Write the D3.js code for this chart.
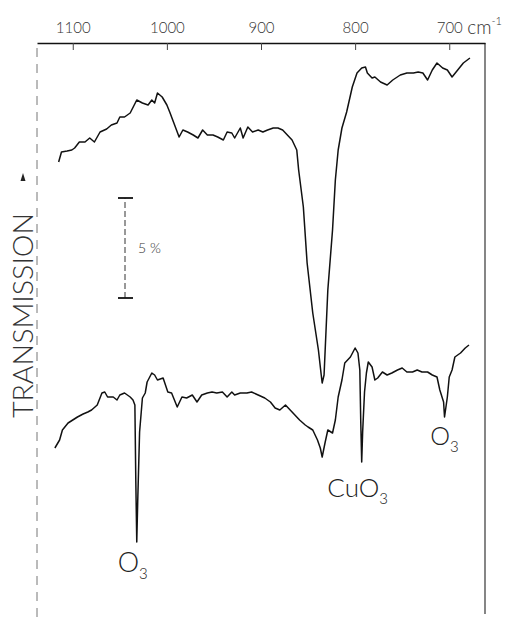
<!DOCTYPE html>
<html>
<head>
<meta charset="utf-8">
<script src="https://cdn.jsdelivr.net/npm/d3@7"></script>
<style>
  html, body { margin: 0; padding: 0; background: #fff; }
  svg { display: block; }
</style>
</head>
<body>
<script>
// wavenumber axis (cm-1)
var tickValues = [1100, 1000, 900, 800, 700];
var tickLabels = ["1100", "1000", "900", "800", "700"];

// upper trace
var topWave = [1115,1112,1106,1101,1098,1093,1087,1082,1077,1071,1064,1059,1053,1050,1045,1039,1032,1026,1020,1016,
  1013,1010,1005,1000,997,993,987,983,978,972,967,962,957,951,946,940,936,931,928,922,919,914,909,903,898,893,887,882,877,872,
  867,862,860,855,851,845,839,836,835,833,829,824,821,818,814,809,803,798,793,789,787,782,779,773,766,760,752,745,738,733,
  728,723,718,713,707,702,697,691,685,678];
var topTrans = [23.0,23.5,23.55,23.6,23.7,24.0,24.0,24.2,24.0,24.5,24.65,24.85,24.95,25.25,25.25,25.45,26.1,25.95,25.85,26.1,
  25.95,26.45,26.25,25.85,25.5,25.0,24.25,24.6,24.5,24.35,24.2,24.6,24.35,24.35,24.25,24.1,24.5,24.45,24.2,24.7,24.2,24.75,24.5,24.6,24.5,24.6,24.7,24.7,24.6,24.35,
  24.1,23.6,22.6,20.75,17.95,15.45,13.6,12.35,11.95,12.35,16.6,19.6,22.1,23.6,24.7,25.5,26.75,27.45,27.7,27.75,27.45,27.2,27.25,27.0,26.85,27.1,27.35,27.45,27.45,27.5,
  27.45,27.1,27.6,27.95,27.7,27.6,27.25,27.6,27.95,28.2];

// lower trace
var bottomWave = [1119,1114,1111,1105,1100,1095,1089,1084,1080,1074,1069,1066,1063,1057,1053,1050,1045,1039,1036,1034,
  1033,1032,1031,1029,1026,1023,1021,1016,1013,1010,1004,999,995,989,984,979,973,968,963,957,952,947,941,936,931,928,922,915,910,903,
  896,890,885,880,874,869,864,859,853,850,845,840,837,835,832,829,824,821,818,814,811,805,800,797,795,794,793,792,790,788,
  786,782,779,776,771,766,761,755,750,745,739,734,729,723,718,713,710,706,705,702,700,697,694,688,683,679];
var bottomTrans = [8.7,9.1,9.6,9.95,10.1,10.25,10.4,10.5,10.6,10.85,11.45,11.5,11.25,11.25,11.1,11.35,11.45,11.25,11.1,10.85,
  7.0,4.0,6.0,9.5,11.2,11.45,12.0,12.45,12.35,12.1,12.2,11.5,11.45,10.75,11.25,11.2,11.35,11.0,11.35,11.45,11.5,11.45,11.5,11.25,11.5,11.35,11.45,11.45,11.5,11.35,
  11.2,11.0,10.7,10.6,10.85,10.6,10.35,10.1,9.85,9.75,9.6,9.1,8.7,8.25,8.95,9.6,9.45,10.1,11.25,12.1,12.95,13.25,13.7,13.45,12.6,10.0,8.0,9.5,11.5,12.45,
  13.0,12.75,12.1,12.2,12.5,12.35,12.45,12.6,12.7,12.5,12.5,12.6,12.5,12.5,12.35,12.25,11.6,11.0,10.25,11.25,12.25,12.6,13.25,13.45,13.7,13.85];

// 5 % scale bar (transmission units)
var scaleBar = [16.2, 21.2];

// band labels
var bandNames = ["O", "CuO", "O"];
var bandWave = [1032, 792, 705];
var bandTrans = [4.0, 8.0, 10.25];

var W = 530, H = 622;
var x = d3.scaleLinear().domain([1138, 662]).range([37, 485]);
var y = d3.scaleLinear().domain([0, 29]).range([622, 42]);

var svg = d3.select("body").append("svg").attr("width", W).attr("height", H);
var font = "Lato, 'Liberation Sans', sans-serif";

// frame
svg.append("line").attr("x1", 37).attr("x2", 37).attr("y1", 48).attr("y2", H)
  .attr("stroke", "#777").attr("stroke-width", 1).attr("stroke-dasharray", "9,7");
svg.append("line").attr("x1", x.range()[1]).attr("x2", x.range()[1]).attr("y1", 43).attr("y2", 614)
  .attr("stroke", "#222").attr("stroke-width", 1.1);

// top wavenumber axis
var axis = d3.axisTop(x).tickValues(tickValues)
  .tickFormat(function (d, i) { return tickLabels[i]; })
  .tickSize(-7).tickSizeOuter(0).tickPadding(10);
var ax = svg.append("g").attr("transform", "translate(0,43)").call(axis);
ax.select(".domain").attr("stroke", "#111").attr("stroke-width", 1.7);
ax.selectAll(".tick line").attr("stroke", "#444").attr("stroke-width", 1);
ax.selectAll(".tick text").attr("font-family", font).attr("font-weight", 300)
  .attr("font-size", 15).attr("fill", "#333");

var unit = svg.append("text").attr("x", x(700) + 18).attr("y", 34)
  .attr("font-family", font).attr("font-weight", 300).attr("font-size", 19).attr("fill", "#333");
unit.append("tspan").text("cm");
unit.append("tspan").attr("dy", -9).attr("font-size", 11).text("-1");

// traces
var line = d3.line()
  .x(function (d) { return x(d[0]); })
  .y(function (d) { return y(d[1]); });

var traces = [d3.zip(topWave, topTrans), d3.zip(bottomWave, bottomTrans)];
svg.selectAll("path.trace").data(traces).enter().append("path")
  .attr("class", "trace")
  .attr("d", line)
  .attr("fill", "none")
  .attr("stroke", "#111")
  .attr("stroke-width", 1.5)
  .attr("stroke-linejoin", "round");

// y label with arrow
svg.append("text")
  .attr("transform", "translate(33,418) rotate(-90)")
  .attr("font-family", "'Liberation Sans Narrow', " + font)
  .attr("font-weight", 300).attr("font-size", 28).attr("fill", "#333")
  .attr("textLength", 205).attr("lengthAdjust", "spacingAndGlyphs")
  .text("TRANSMISSION");
svg.append("path").attr("d", "M23,173 L20.5,181 L25.5,181 Z").attr("fill", "#222");

// 5 % bar
var bx = 125;
svg.append("line").attr("x1", bx).attr("x2", bx).attr("y1", y(scaleBar[0])).attr("y2", y(scaleBar[1]))
  .attr("stroke", "#333").attr("stroke-width", 1).attr("stroke-dasharray", "6,3");
svg.selectAll("line.cap").data(scaleBar).enter().append("line").attr("class", "cap")
  .attr("x1", bx - 7).attr("x2", bx + 8)
  .attr("y1", function (d) { return y(d); }).attr("y2", function (d) { return y(d); })
  .attr("stroke", "#111").attr("stroke-width", 1.8);
svg.append("text").attr("x", bx + 13).attr("y", (y(scaleBar[0]) + y(scaleBar[1])) / 2 + 5)
  .attr("font-family", font).attr("font-weight", 300).attr("font-size", 14).attr("fill", "#333")
  .text("5 %");

// band labels (O3, CuO3, O3)
var labOffset = [[-4, 30], [-5, 35], [0, 28]];
var labSize = [27, 26, 25];
var lab = svg.selectAll("text.band").data(bandNames).enter().append("text")
  .attr("class", "band")
  .attr("x", function (d, i) { return x(bandWave[i]) + labOffset[i][0]; })
  .attr("y", function (d, i) { return y(bandTrans[i]) + labOffset[i][1]; })
  .attr("text-anchor", "middle")
  .attr("font-family", font).attr("font-weight", 300)
  .attr("font-size", function (d, i) { return labSize[i]; })
  .attr("fill", "#222");
lab.append("tspan").text(function (d) { return d; });
lab.append("tspan").attr("dy", 7).attr("font-size", 15).text("3");
</script>
</body>
</html>
